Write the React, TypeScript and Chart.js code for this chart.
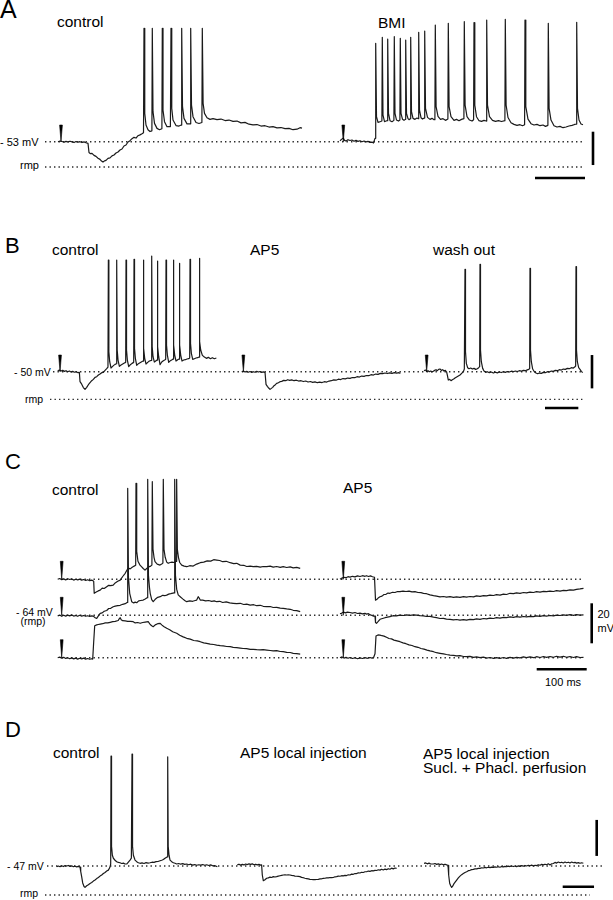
import React, { useEffect, useRef } from "react";
import { Chart, registerables } from "chart.js";
Chart.register(...registerables);

// ---------- DATA (time in ms from sweep start, membrane potential in mV) ----------
const A_HOLD = -53;
const A_RMP = -68.2;
const A_STIM = [6, 6.6];
const A_CONTROL = [
  [0,-53],[4,-52.6],[8,-52.9],[12,-53.3],[16,-52.8],[20,-53.2],[24,-52.7],[28,-53.1],[32,-53.5],[36,-52.9],[40,-53.3],[44,-53.0],[48,-53.5],[52,-53.1],[56,-53.6],[60,-54.0],
  [62,-59.5],[65,-60.2],[68,-60.0],[72,-61.2],[76,-61.8],[80,-62.9],[84,-63.6],[87,-64.6],[90,-65.2],[93,-64.5],[96,-64.2],[100,-63.0],[104,-62.7],[108,-61.5],[112,-61.0],[116,-59.8],[120,-59.2],[124,-58.0],[128,-57.4],[132,-55.6],[136,-55.0],[140,-53.2],[144,-52.4],[148,-51.2],[152,-50.4],[156,-50.8],[160,-49.4],[164,-48.9],[168,-48.2],[171,-47.6],
  [172,15],[173.5,-36],[176,-43],[180,-45.8],[184,-46.9],[187.8,-46.5],
  [188.6,15],[190,-35],[193,-42],[198,-45],[203,-45.8],[207.8,-45.2],
  [208.6,15],[210,-34],[213,-41],[218,-44],[224.8,-43.9],
  [226,15],[227.5,-33],[230,-40],[236,-43.3],[242,-43.6],[246.6,-43],
  [247.4,15],[249,-32],[252,-39],[258,-42.3],[264.6,-42.3],
  [265.4,15],[267,-31],[270,-38],[276,-41.5],[282,-42.1],[287.8,-41.5],
  [288.6,15],[290.2,-30],[293,-36],[298,-38.6],[304,-39.6],[310,-39.2],[318,-39.8],[326,-39.4],[334,-40.3],[342,-40.0],[350,-40.8],[358,-40.6],[366,-41.7],[374,-41.4],[382,-42.5],[390,-42.9],[398,-42.7],[406,-43.6],[414,-43.4],[422,-44.2],[430,-44.0],[438,-44.7],[446,-44.5],[454,-45.2],[462,-45.0],[470,-45.8],[478,-45.5],[484,-44.6],[488,-44.9],
];
const A_BMI = [
  [0,-52.4],[3,-51.6],[6.6,-50.8],[9,-52.2],[12,-52.6],[16,-51.8],[20,-52.3],[24,-52.0],[28,-52.7],[32,-52.2],[36,-52.8],[40,-52.4],[44,-53.0],[48,-52.6],[52,-53.1],[56,-52.8],[60,-53.4],[64,-53.2],[67,-53.8],[70,-51],
  [71.4,6],[73,-38],[76,-41.4],[80,-41.0],[83.8,-40.6],
  [84.6,9.6],[86,-37],[89,-41],[92,-40.6],[94.6,-40.4],
  [95.4,8.6],[97,-36],[100,-40.4],[104,-41.0],[107.8,-40.2],
  [108.6,10],[110,-36],[113,-40],[117,-40.6],[119.8,-40],
  [120.6,9],[122,-36],[125,-39.6],[128,-40.2],[130.6,-39.6],
  [131.4,8],[133,-36],[136,-39.2],[138,-39.8],[140.6,-39.2],
  [141.4,9.6],[143,-35],[146,-39],[150,-39.6],[154,-38.8],[156.6,-39.2],
  [157.4,12.6],[159,-34],[162,-38.6],[165,-39.4],[168.6,-38.8],
  [169.4,13.4],[171,-33],[175,-38.4],[180,-39.6],[184,-39.0],[188,-39.8],[189.8,-39.2],
  [190.6,17],[192.2,-32],[196,-37.8],[201,-39.6],[206,-39.2],[211,-40.2],[215.8,-39.4],
  [216.6,18],[218.2,-32],[222,-38],[228,-40.2],[233,-39.6],[238,-40.4],[243,-39.6],[247.8,-39.2],
  [248.6,19],[250.2,-31],[254,-38],[259,-40],[264,-40.6],[267.2,-39.8],
  [268,18.4],[269.6,-31],[273,-38],[278,-40.4],[283,-40.8],[288,-40.2],[292.6,-40.6],
  [293.4,20],[295,-31],[299,-38],[305,-40.2],[311,-40.8],[317,-40.4],[323,-40.9],[329.8,-40.4],
  [330.6,20.4],[332.2,-31],[336,-38.5],[342,-41.6],[348,-42.6],[354,-43.2],[360,-42.8],[365,-43.4],[369.2,-42.8],
  [370,20],[371.6,-32],[376,-39.5],[382,-42.2],[388,-43.0],[394,-42.6],[400,-43.4],[406,-43.0],[411,-43.8],[415.8,-43.2],
  [416.6,18],[418.2,-33],[422,-40],[428,-43.4],[434,-44.2],[440,-43.8],[446,-44.6],[452,-44.2],[458,-43.6],[464,-43.2],[468,-42.8],[472.6,-42.4],
  [473.4,18.6],[475,-33],[478,-40],[482,-42.4],[486,-42.8],
];

const B_HOLD = -50;
const B_RMP = -66.6;
const B_STIM = [7, 5, 8];
const B_CONTROL = [
  [0,-49.4],[5,-49.0],[10,-49.6],[15,-49.2],[20,-49.8],[25,-49.4],[30,-50.0],[35,-49.6],[40,-50.2],[45,-49.8],[50,-50.3],[55,-50.0],[60,-50.5],[65,-50.4],
  [67,-56],[72,-57.5],[77,-59.5],[82,-60.6],[87,-59.4],[92,-57.8],[97,-56.6],[102,-55.4],[107,-54.6],[112,-53.4],[117,-53.0],[122,-52.0],[127,-51.4],[132,-50.6],[137,-50.4],[142,-49.2],[147,-48.2],[150.8,-47.2],
  [152,17],[153.5,-38],[156,-44],[160,-47.8],[164,-47.0],[168,-46.2],[172,-45.6],[176,-45.2],
  [177,17],[178.5,-37],[181,-43],[185,-46.8],[190,-46.0],[195,-45.4],[200,-44.8],[204,-44.4],
  [205,17],[206.5,-37],[209,-43],[213,-47.0],[218,-45.8],[223,-45.0],[228,-44.4],
  [229,17.4],[230.5,-36],[233,-42],[237,-46.2],[242,-45.2],[247,-44.6],[252,-44.0],[256,-43.6],
  [257,17],[258.5,-36],[261,-42],[265,-45.4],[270,-44.4],[275,-43.6],[281,-43.2],
  [282,19.4],[283.5,-35],[286,-41],[290,-44.2],[294,-43.6],[298,-43.0],
  [299,16.4],[300.5,-35],[303,-41],[307,-45.8],[312,-44.2],[317,-43.4],[321,-43],[324,-42.6],
  [325,17],[326.5,-34],[329,-40],[333,-44.4],[338,-43.4],[343,-42.8],[346,-42.4],
  [347,17],[348.5,-34],[351,-40],[355,-43.6],[360,-42.8],[364,-42.4],
  [365,15],[366.5,-34],[369,-40],[373,-43.6],[378,-43.0],[383,-42.8],[388,-42.4],[393,-42.2],[396,-41.8],
  [397,17.4],[398.5,-33],[401,-39],[405,-42.6],[410,-42.2],[415,-41.8],[420,-41.6],[424,-41.2],
  [425,18],[426.5,-32],[429,-37],[434,-40.2],[440,-41.2],[446,-42.0],[452,-41.4],[458,-42.2],[464,-41.6],[470,-42.2],[476,-41.8],
];
const B_AP5 = [
  [0,-50],[5,-49.6],[10,-50.2],[15,-49.8],[20,-50.3],[25,-49.9],[30,-50.4],[35,-50.0],[40,-50.3],[45,-49.8],[50,-50.2],[55,-49.9],[60,-50.4],[65,-50.1],[70,-50.5],
  [73,-57.6],[77,-58.8],[81,-59.8],[85,-60.6],[89,-60.0],[93,-59.4],[97,-58.4],[101,-57.8],[105,-57.0],[110,-56.6],[115,-56.0],[120,-55.8],[126,-55.2],[132,-55.4],[138,-54.8],[144,-55.2],[150,-54.9],[157,-55.4],[164,-55.1],[171,-55.6],[178,-55.4],[185,-55.9],[192,-55.6],[199,-56.2],[206,-55.9],[213,-56.4],[220,-56.1],[227,-56.6],[234,-56.3],[241,-56.5],[248,-56.0],[255,-56.2],[262,-55.6],[269,-55.4],[276,-54.9],[283,-55.1],[290,-54.5],[297,-54.7],[304,-54.1],[311,-54.3],[318,-53.8],[325,-54.0],[332,-53.5],[339,-53.6],[346,-53.0],[353,-53.2],[360,-52.6],[367,-52.8],[374,-52.3],[381,-52.4],[388,-51.8],[395,-52.0],[402,-51.4],[409,-51.6],[416,-51.0],[423,-51.2],[430,-50.8],[437,-51.1],[444,-50.7],[451,-51.0],[458,-50.6],[465,-50.9],[472,-50.6],[476,-51.0],
];
const B_WASHOUT = [
  [0,-49.4],[4,-49.0],[8,-49.8],[12,-49.4],[16,-50.0],[20,-49.6],[24,-50.1],[28,-49.7],[32,-49.2],[36,-48.8],[40,-49.4],[44,-48.6],[48,-48.4],[52,-49.2],[56,-48.8],[60,-49.6],[64,-49.2],[68,-50.2],[70,-52],
  [73,-55],[77,-54.6],[81,-55.4],[85,-54.8],[89,-54.4],[93,-53.8],[98,-53.2],[103,-52.6],[108,-52.0],[113,-51.0],[118,-50],[121,-48.4],
  [123,11.4],[124.5,-38],[127,-45],[131,-47.6],[135,-48.2],[140,-47.8],[145,-48.4],[150,-48.0],[155,-48.6],[160,-48.2],[164,-47.6],[167,-47.0],
  [168,14.4],[169.5,-37],[172,-44],[176,-48],[180,-49.6],[185,-50.4],[190,-50.0],[196,-50.6],[202,-50.2],[208,-50.8],[214,-50.3],[220,-50.7],[226,-50.2],[232,-50.5],[238,-50.0],[244,-50.4],[250,-49.9],[256,-50.2],[262,-49.7],[268,-50.0],[274,-49.6],[280,-49.9],[286,-49.4],[292,-49.7],[298,-49.2],[304,-49.4],[310,-48.9],[314,-48.6],[317,-48.2],
  [318,12],[319.5,-37],[322,-44],[326,-48.4],[331,-50.0],[336,-50.8],[341,-51.2],[346,-50.8],[352,-51.0],[358,-50.4],[364,-50.6],[370,-50.0],[376,-50.2],[382,-49.6],[388,-49.8],[394,-49.2],[400,-49.4],[406,-48.8],[412,-49.0],[418,-48.4],[424,-48.6],[430,-48.0],[436,-48.2],[442,-47.6],[448,-47.8],[452,-47.2],[455,-46.6],
  [456,13],[457.5,-37],[460,-44],[464,-47.6],[468,-48.6],[472,-49.8],[476,-50.6],
];

const C_RMP = -64;
const C_STIM = [8, 6.6];
const C_CONTROL_1 = [
  [0,-64],[4,-63.6],[8,-64.2],[12,-63.8],[16,-64.3],[20,-63.7],[24,-64.1],[28,-63.8],[32,-64.4],[36,-64.0],[40,-64.3],[44,-63.9],[48,-64.4],[52,-64.1],[56,-64.6],[60,-64.2],[64,-64.7],[68,-64.4],[72,-65],
  [73,-71],[77,-70.4],[81,-69.8],[85,-69.4],[89,-68.4],[93,-68.6],[98,-67.7],[102,-67.0],[106,-67.2],[111,-66.9],[115,-65.8],[120,-65.0],[125,-64.4],[130,-62.6],[135,-61],[138,-59.6],[141,-58.4],[145,-58.8],[149,-58.0],[153,-57.4],[156,-57.0],
  [156.6,-16],[158,-50],[160.5,-55],[164.6,-56.9],[168,-57.8],[171,-58.6],[174.6,-59.4],[178,-58.6],[182,-57.8],[186,-57.4],[188.4,-56.9],
  [189.2,-15.2],[190.6,-49],[192.6,-53],[194.6,-55.2],[199,-56.4],[204.6,-56.9],[208,-56.4],[210.4,-55.9],
  [211.2,-14],[212.6,-49],[215,-53],[218,-55.4],[221,-56],[225,-55.6],[228.6,-55.4],[233,-55.6],[237,-55],
  [237.9,-14],[239.3,-49],[241.5,-53],[244,-55.6],[248,-56.9],[253,-57.4],[258,-57.7],[264,-57.2],[271,-57.4],[278,-56.4],[285,-55.7],[292,-55.4],[299,-54.8],[306,-54.9],[312,-54.2],[318,-54.4],[324,-54.6],[330,-55.2],[337,-55.0],[345,-55.7],[352,-56.2],[358,-56.0],[365,-56.9],[372,-57.0],[378,-57.6],[385,-57.4],[391,-57.7],[398,-57.5],[405,-57.9],[411,-57.6],[418,-57.7],[425,-57.4],[431,-57.9],[438,-57.6],[445,-58.0],[451,-57.7],[458,-58.1],[465,-57.8],[471,-58.3],[478,-58.0],[485,-58.5],
];
const C_CONTROL_2 = [
  [0,-64.3],[4,-63.9],[8,-64.5],[12,-64.0],[16,-64.4],[20,-63.9],[24,-64.3],[28,-63.8],[32,-64.4],[36,-64.1],[40,-64.5],[44,-64.0],[48,-64.4],[52,-64.1],[56,-64.5],[60,-64.2],[64,-64.6],[68,-64.3],[71,-64.4],[75,-65.2],[78,-65.6],[81,-64.4],[85,-63],[89,-62.8],[93,-62.0],[98,-61.6],[102,-60.6],[106,-60.5],[111,-59.7],[115,-59.4],[120,-59.2],[125,-59.0],[130,-58.5],[135,-58.2],[138.8,-57.6],
  [140,-0.5],[141.5,-45],[144,-53],[148,-57.2],[152,-57.8],[155,-57.4],[158,-57.7],[162,-56.8],[166,-56.6],[171,-56.4],[175,-55.8],[178.8,-55.2],
  [180,4],[181.5,-44],[183.5,-50],[185,-53],[188,-56.2],[191,-57.2],[195,-56.0],[200,-55.0],[205,-54.7],[210,-54.0],[214,-54.2],[218,-53.9],[222,-53.4],[226,-53.2],[232.8,-52.8],
  [234,4],[235.5,-44],[238,-51],[241,-53.8],[245,-54.7],[250,-55.8],[254,-56.6],[258,-57.2],[264,-56.8],[270,-57.0],[275,-56.6],[278,-56.4],[281,-54.7],[283,-55.4],[285,-56.4],[290,-56.4],[296,-56.8],[302,-56.6],[308,-57.0],[313,-56.8],[318,-57.2],[324,-57.0],[330,-57.6],[337,-57.3],[344,-57.8],[351,-58.0],[358,-58.2],[365,-58.0],[372,-58.6],[378,-58.4],[385,-58.9],[392,-58.7],[398,-59.2],[405,-59.0],[411,-59.5],[418,-59.7],[425,-59.6],[431,-60.1],[438,-60.0],[445,-60.4],[451,-60.5],[458,-60.8],[465,-61.0],[471,-61.5],[478,-61.7],[485,-62.2],
];
const C_CONTROL_3 = [
  [0,-64],[4,-63.7],[8,-64.2],[12,-63.8],[16,-64.4],[20,-64.0],[24,-64.5],[28,-64.1],[32,-64.6],[36,-64.2],[40,-64.7],[44,-64.3],[48,-64.6],[52,-64.2],[56,-64.7],[60,-64.4],[64,-64.8],[68,-64.5],[70,-64.7],
  [72,-56],[74,-48],[78,-47.6],[81,-47.4],[85,-47.2],[90,-47.0],[95,-46.6],[100,-46.6],[105,-46.3],[110,-46.0],[115,-45.8],[121,-45.4],[123,-44.6],[125,-44],[127,-45],[130,-45.5],[135,-45.6],[140,-45.8],[145,-45.8],[151,-46],[155,-46.6],[160,-46.4],[165,-46.8],[170,-46.4],[175,-46.2],[181,-46],[185,-47.4],[188,-48.0],[191,-48.5],[195,-47.6],[200,-47.0],[205,-46.8],[208,-47.6],[212,-48.4],[218,-49.3],[224,-50.0],[230,-51.0],[238,-51.8],[244,-52.8],[251,-53.6],[258,-54.3],[265,-54.7],[272,-55.4],[279,-55.6],[285,-56],[292,-56.6],[298,-56.8],[305,-57.2],[312,-57.4],[318,-57.7],[325,-58.0],[331,-58.1],[338,-58.4],[345,-58.5],[351,-58.8],[358,-59.0],[365,-59.2],[371,-59.4],[378,-59.5],[385,-59.8],[391,-59.8],[398,-60.0],[405,-60.1],[411,-60.0],[418,-60.2],[425,-60.4],[431,-60.6],[438,-60.5],[445,-60.9],[451,-61.0],[458,-61.3],[465,-61.4],[471,-61.8],[478,-62.0],[485,-62.2],
];
const C_AP5_1 = [
  [0,-64],[4,-63.4],[8,-63.0],[12,-63.2],[16,-62.7],[20,-62.9],[25,-62.5],[30,-62.8],[35,-62.3],[40,-62.6],[45,-62.2],[50,-62.5],[53,-62.2],[57,-62.6],[61,-62.3],[65,-62.7],[69,-63],
  [71,-74.4],[74,-74.0],[77,-73.2],[80,-72.7],[84,-72.4],[88,-71.6],[92,-71.5],[96,-70.9],[100,-71.0],[105,-70.5],[110,-70.6],[115,-70.1],[120,-70.2],[126,-69.9],[132,-70.1],[138,-69.9],[144,-70.3],[150,-70.2],[156,-70.6],[162,-70.7],[167,-71.0],[173,-71.2],[180,-71.8],[187,-72.2],[193,-72.4],[200,-72.8],[207,-72.6],[213,-72.9],[220,-72.7],[227,-73.0],[233,-72.8],[240,-73.0],[247,-72.7],[253,-72.9],[260,-72.6],[267,-72.8],[273,-72.3],[280,-72.5],[287,-72.2],[293,-72.3],[300,-71.9],[307,-72.1],[313,-71.7],[320,-71.9],[327,-71.4],[333,-71.6],[340,-71.0],[347,-71.2],[353,-70.8],[360,-71.0],[367,-70.6],[373,-70.8],[380,-70.4],[387,-70.6],[393,-70.2],[400,-70.4],[407,-70.0],[413,-70.2],[420,-69.9],[427,-70.1],[433,-69.7],[440,-69.9],[447,-69.5],[453,-69.7],[460,-69.3],[467,-69.4],[473,-69.0],[480,-68.8],[487,-68.5],
];
const C_AP5_2 = [
  [0,-63.2],[3,-63],[7,-62.4],[11,-62.8],[15,-62.4],[20,-62.6],[25,-62.9],[30,-62.6],[35,-63.1],[40,-62.9],[45,-63.3],[50,-63.0],[53,-63.4],[57,-63.2],[61,-63.8],[64,-64.1],[67,-64.4],[70,-64.4],
  [71,-67.6],[73,-68],[76,-67.2],[80,-66],[85,-65.6],[90,-65.2],[95,-64.9],[100,-64.7],[106,-64.2],[113,-64.3],[120,-63.9],[127,-64.1],[133,-63.8],[140,-64.0],[147,-63.8],[153,-63.9],[160,-64.2],[167,-64.3],[173,-64.6],[180,-64.5],[187,-64.9],[193,-65.2],[200,-65.6],[207,-65.5],[213,-65.9],[220,-66],[227,-66.3],[233,-66.1],[240,-66.4],[247,-66.2],[253,-66.4],[260,-66.0],[267,-66.2],[273,-65.8],[280,-66.0],[287,-65.6],[293,-65.8],[300,-65.4],[307,-65.6],[313,-65.2],[320,-65.4],[327,-65.0],[333,-65.2],[340,-64.8],[347,-65.0],[353,-64.7],[360,-64.9],[367,-64.6],[373,-64.8],[380,-64.5],[387,-64.7],[393,-64.3],[400,-64.5],[407,-64.2],[413,-64.4],[420,-64.1],[427,-64.3],[433,-63.9],[440,-64.1],[447,-63.8],[453,-64.0],[460,-63.7],[467,-64.0],[473,-63.7],[480,-63.9],[487,-63.8],
];
const C_AP5_3 = [
  [0,-64],[4,-63.6],[8,-64.2],[12,-63.8],[16,-64.3],[20,-63.9],[25,-64.4],[30,-64.0],[35,-64.5],[40,-64.1],[45,-64.4],[50,-64.0],[55,-64.3],[60,-63.9],[64,-64.2],[67,-64.0],[70,-62],
  [72,-53.2],[76,-52.6],[80,-52.7],[84,-53.0],[88,-53.2],[93,-53.8],[98,-54.4],[103,-54.6],[108,-55.2],[114,-55.6],[120,-56],[126,-56.6],[132,-57.0],[138,-57.6],[144,-57.9],[150,-58.5],[156,-58.8],[162,-59.4],[168,-59.7],[174,-60.2],[180,-60.6],[187,-61],[193,-61.5],[200,-61.8],[207,-62.1],[213,-62.4],[220,-62.7],[227,-62.8],[233,-63.1],[240,-63.0],[247,-63.4],[253,-63.5],[260,-63.3],[267,-63.8],[273,-63.6],[280,-64.0],[287,-63.7],[293,-64.2],[300,-63.9],[307,-64.3],[313,-64.0],[320,-64.3],[327,-63.9],[333,-64.3],[340,-63.8],[347,-64.2],[353,-63.8],[360,-64.1],[367,-63.6],[373,-64.0],[380,-63.6],[387,-64.0],[393,-63.5],[400,-63.9],[407,-63.4],[413,-63.8],[420,-63.4],[427,-63.8],[433,-63.3],[440,-63.7],[447,-63.3],[453,-63.8],[460,-63.4],[467,-63.9],[473,-63.5],[480,-63.9],[487,-63.8],
];

const D_HOLD = -47;
const D_RMP = -63.1;
const D_CONTROL = [
  [0,-47.4],[5,-47.0],[10,-47.4],[15,-46.9],[20,-47.3],[25,-46.8],[30,-47.0],[35,-46.7],[40,-47.2],[45,-46.9],[50,-47.4],[55,-47.1],[60,-47.5],[65,-47.2],[70,-47.6],
  [72,-50],[75,-53],[78,-56.4],[82,-58.4],[85,-58.9],[90,-58.0],[95,-57.4],[100,-56.7],[105,-56.2],[110,-55.4],[115,-54.8],[120,-54],[125,-53.4],[130,-52.6],[135,-52.0],[140,-51.2],[145,-50.6],[150,-49.8],[155,-49.3],[159,-48],[162,-46],
  [163,14.1],[164.5,-36],[167,-41],[170,-42.7],[175,-43.8],[180,-44.6],[185,-45.0],[190,-45.2],[195,-45.6],[200,-45.4],[205,-45.9],[210,-45.9],[215,-44.8],[220,-43.7],[224,-42.6],
  [226,15.2],[227.5,-36],[230,-41],[235,-43.7],[240,-44.6],[245,-45.2],[250,-45.5],[256,-45.3],[262,-45.6],[268,-45.1],[274,-45.4],[280,-45.2],[286,-44.9],[292,-45.0],[298,-44.6],[304,-44.5],[310,-44.1],[315,-43.8],[320,-43.4],[325,-42.7],[331,-42],
  [333,13.7],[334.5,-36],[337,-41],[340,-43.7],[345,-44.6],[350,-45.2],[355,-45.5],[360,-45.9],[366,-45.6],[372,-46.0],[378,-45.7],[384,-46.1],[390,-45.9],[396,-46.3],[402,-46.0],[408,-46.5],[414,-46.2],[420,-46.6],[426,-46.3],[432,-46.5],[438,-46.2],[444,-46.6],[450,-46.3],[456,-46.7],[462,-46.4],[468,-46.9],[474,-46.8],[482,-47.4],
];
const D_AP5 = [
  [0,-46.4],[5,-46.0],[10,-46.5],[15,-46.1],[20,-46.4],[25,-45.9],[30,-46.2],[35,-45.8],[40,-46.1],[45,-45.8],[50,-46.3],[55,-46.0],[60,-46.4],[65,-46.1],[70,-46.5],[73,-46.4],
  [75,-52],[78,-55.2],[83,-54.6],[88,-53.8],[93,-53.6],[98,-53.2],[103,-53.4],[108,-52.9],[113,-53.1],[118,-52.9],[123,-52.6],[128,-52.4],[133,-52.2],[138,-52.0],[143,-51.9],[148,-52.0],[153,-51.9],[158,-52.0],[163,-52.2],[168,-52.3],[173,-52.6],[178,-52.7],[183,-52.8],[188,-52.9],[193,-53.3],[198,-53.5],[203,-53.8],[208,-54.0],[213,-54.2],[218,-54.4],[223,-54.5],[228,-54.6],[233,-54.6],[238,-54.5],[243,-54.4],[248,-54.2],[253,-54.1],[258,-53.9],[263,-53.8],[268,-53.6],[273,-53.6],[278,-53.4],[283,-53.5],[288,-53.4],[293,-53.0],[298,-52.9],[303,-52.6],[308,-52.7],[313,-52.4],[318,-52.5],[323,-52.2],[328,-52.3],[333,-51.9],[338,-52],[343,-51.5],[348,-51.6],[353,-51.2],[358,-51.2],[363,-50.8],[368,-50.9],[373,-50.5],[378,-50.6],[383,-50.2],[388,-50.2],[393,-49.8],[398,-50.0],[403,-49.6],[408,-49.7],[413,-49.4],[418,-49.5],[423,-49.1],[428,-49.3],[433,-48.8],[438,-49.2],[443,-48.7],[448,-49.0],[453,-48.5],[458,-48.8],[463,-48.2],[468,-48.6],[473,-48.1],[478,-48.3],
];
const D_SUCL_PHACL = [
  [0,-45.5],[5,-45.3],[10,-45.8],[15,-45.4],[20,-45.9],[28,-45.9],[33,-45.6],[38,-46.1],[43,-45.8],[48,-46.2],[53,-45.9],[58,-46.3],[63,-46.0],[68,-46.4],[72,-46.6],
  [74,-52],[77,-56.6],[80,-58.0],[83,-58.9],[86,-58.2],[90,-56.8],[94,-55.8],[98,-54.8],[103,-53.6],[108,-52.6],[113,-51.8],[118,-51.2],[123,-50.6],[128,-50.2],[133,-49.6],[138,-49.4],[143,-49.0],[148,-48.9],[153,-48.6],[158,-48.6],[163,-48.3],[168,-48.3],[173,-48.0],[178,-48.1],[183,-47.8],[188,-48.0],[193,-47.7],[198,-47.9],[203,-47.6],[208,-47.8],[213,-47.5],[218,-47.7],[223,-47.4],[228,-47.7],[233,-47.3],[238,-47.5],[243,-47.2],[248,-47.4],[253,-47.1],[258,-47.3],[263,-47.0],[268,-47.3],[273,-47.0],[278,-47.4],[283,-46.9],[288,-47.2],[293,-46.8],[298,-47.1],[303,-46.7],[308,-47.0],[313,-46.6],[318,-46.9],[323,-46.5],[328,-47.0],[333,-46.6],[338,-46.8],[343,-46.3],[348,-46.6],[353,-46.1],[358,-46.4],[363,-46.0],[368,-46.3],[373,-45.8],[378,-46.4],[383,-45.8],[388,-45.6],[393,-45.0],[398,-45.4],[403,-44.8],[408,-45.2],[413,-44.9],[418,-45.3],[423,-44.8],[428,-45.2],[433,-44.9],[438,-45.3],[443,-44.8],[448,-45.2],[453,-45.0],[458,-45.4],[463,-45.1],[468,-45.5],[473,-45.2],[478,-45.5],
];

// Scale bar sizes (data units)
const BAR_MV = 20;
const BAR_MS = [100, 100, 100, 94];

// ---------- LAYOUT ----------
const W = 613;
const FONT = 'Arial, "Liberation Sans", Helvetica, sans-serif';

type Frame = { top: number; height: number; pxPerMs: number; pxPerMv: number; refMv: number; refY: number };
type SweepSpec = { data: number[][]; left: number; stim?: number; stimH?: number; hold?: number };
type Spec = {
  frame: Frame;
  sweeps: SweepSpec[];
  refLines: { mv: number; from: number; to: number }[];
  vbar?: { x: number; fromMv: number; lenMv: number };
  hbar?: { mv: number; from: number; lenMs: number };
};

const FA: Frame = { top: 0, height: 200, pxPerMs: 0.5, pxPerMv: 5 / 3, refMv: A_HOLD, refY: 141.7 };
const FB: Frame = { top: 200, height: 215, pxPerMs: 1 / 3, pxPerMv: 5 / 3, refMv: B_HOLD, refY: 371.7 };
const FC1: Frame = { top: 430, height: 260, pxPerMs: 0.5, pxPerMv: 2, refMv: C_RMP, refY: 579.3 };
const FC2: Frame = { ...FC1, refY: 615.3 };
const FC3: Frame = { ...FC1, refY: 657.7 };
const FD: Frame = { top: 700, height: 200, pxPerMs: 1 / 3, pxPerMv: 1.8, refMv: D_HOLD, refY: 866 };

const SPECS: Spec[] = [
  {
    frame: FA,
    sweeps: [
      { data: A_CONTROL, left: 58, stim: A_STIM[0], stimH: 10, hold: A_HOLD },
      { data: A_BMI, left: 340, stim: A_STIM[1], stimH: 10, hold: A_HOLD },
    ],
    refLines: [{ mv: A_HOLD, from: 45, to: 583 }, { mv: A_RMP, from: 45, to: 583 }],
    vbar: { x: 593, fromMv: -67, lenMv: BAR_MV },
    hbar: { mv: -74.8, from: 535, lenMs: BAR_MS[0] },
  },
  {
    frame: FB,
    sweeps: [
      { data: B_CONTROL, left: 57.7, stim: B_STIM[0], stimH: 10, hold: B_HOLD },
      { data: B_AP5, left: 241.7, stim: B_STIM[1], stimH: 10, hold: B_HOLD },
      { data: B_WASHOUT, left: 424, stim: B_STIM[2], stimH: 10, hold: B_HOLD },
    ],
    refLines: [{ mv: B_HOLD, from: 53, to: 583 }, { mv: B_RMP, from: 50, to: 583 }],
    vbar: { x: 592, fromMv: -60, lenMv: BAR_MV },
    hbar: { mv: -71.8, from: 545, lenMs: BAR_MS[1] },
  },
  {
    frame: FC1,
    sweeps: [
      { data: C_CONTROL_1, left: 57.7, stim: C_STIM[0], stimH: 9, hold: C_RMP },
      { data: C_AP5_1, left: 340, stim: C_STIM[1], stimH: 9, hold: C_RMP },
    ],
    refLines: [{ mv: C_RMP, from: 62, to: 583 }],
  },
  {
    frame: FC2,
    sweeps: [
      { data: C_CONTROL_2, left: 57.7, stim: C_STIM[0], stimH: 9, hold: C_RMP },
      { data: C_AP5_2, left: 340, stim: C_STIM[1], stimH: 9, hold: C_RMP },
    ],
    refLines: [{ mv: C_RMP, from: 62, to: 583 }],
    vbar: { x: 591.7, fromMv: -78, lenMv: BAR_MV },
    hbar: { mv: -91, from: 536.7, lenMs: BAR_MS[2] },
  },
  {
    frame: FC3,
    sweeps: [
      { data: C_CONTROL_3, left: 57.7, stim: C_STIM[0], stimH: 9, hold: C_RMP },
      { data: C_AP5_3, left: 340, stim: C_STIM[1], stimH: 9, hold: C_RMP },
    ],
    refLines: [{ mv: C_RMP, from: 62, to: 583 }],
  },
  {
    frame: FD,
    sweeps: [
      { data: D_CONTROL, left: 56.7 },
      { data: D_AP5, left: 237.3 },
      { data: D_SUCL_PHACL, left: 424 },
    ],
    refLines: [{ mv: D_HOLD, from: 47, to: 603 }, { mv: D_RMP, from: 45, to: 590 }],
    vbar: { x: 596.7, fromMv: -41.4, lenMv: BAR_MV },
    hbar: { mv: -58.5, from: 562.7, lenMs: BAR_MS[3] },
  },
];

type Lbl = { text: string; x: number; base: number; size: number };
const LABELS: Lbl[] = [
  { text: "A", x: 0, base: 18.5, size: 25 },
  { text: "control", x: 57, base: 27.5, size: 15.5 },
  { text: "BMI", x: 378, base: 28, size: 15.5 },
  { text: "- 53 mV", x: 0, base: 146.5, size: 11 },
  { text: "rmp", x: 20, base: 169.5, size: 11 },
  { text: "B", x: 5, base: 253.3, size: 22 },
  { text: "control", x: 52, base: 255, size: 15.5 },
  { text: "AP5", x: 250, base: 255, size: 15.5 },
  { text: "wash out", x: 433, base: 255, size: 15.5 },
  { text: "- 50 mV", x: 14, base: 375.5, size: 10.5 },
  { text: "rmp", x: 25, base: 403, size: 10.5 },
  { text: "C", x: 5, base: 470, size: 22 },
  { text: "control", x: 52, base: 495, size: 15.5 },
  { text: "AP5", x: 343, base: 493, size: 15.5 },
  { text: "- 64 mV", x: 16, base: 615.5, size: 10.5 },
  { text: "(rmp)", x: 20.5, base: 625, size: 10.5 },
  { text: "20", x: 597.5, base: 618.5, size: 11 },
  { text: "mV", x: 597.5, base: 632, size: 11 },
  { text: "100 ms", x: 545, base: 686.7, size: 11 },
  { text: "D", x: 5, base: 737.7, size: 22 },
  { text: "control", x: 53, base: 758, size: 15.5 },
  { text: "AP5 local injection", x: 240, base: 758, size: 15.5 },
  { text: "AP5 local injection", x: 423, base: 759.5, size: 15.5 },
  { text: "Sucl. + Phacl. perfusion", x: 423, base: 773, size: 15.5 },
  { text: "- 47 mV", x: 7, base: 869.5, size: 10.5 },
  { text: "rmp", x: 20, base: 896.5, size: 10.5 },
];

function TraceChart({ spec }: { spec: Spec }) {
  const ref = useRef<HTMLCanvasElement>(null);
  useEffect(() => {
    const f = spec.frame;
    const msPerPx = 1 / f.pxPerMs;
    const mvPerPx = 1 / f.pxPerMv;
    const yMax = f.refMv + (f.refY - f.top) * mvPerPx;
    const yMin = yMax - f.height * mvPerPx;
    const base: any = {
      showLine: true, pointRadius: 0, pointHoverRadius: 0, fill: false, clip: false,
      borderJoinStyle: "round", tension: 0,
    };
    const datasets: any[] = [];
    for (const s of spec.sweeps) {
      const off = s.left * msPerPx;
      datasets.push({
        ...base, order: 1,
        data: s.data.map(([t, v]) => ({ x: off + t, y: v })),
        borderColor: "#1a1a1a", borderWidth: 1.2,
      });
      if (s.stim !== undefined && s.hold !== undefined && s.stimH !== undefined) {
        const sx = off + s.stim;
        const hw = 1.4 * msPerPx;
        const top = s.hold + s.stimH;
        datasets.push({
          ...base, order: 0, borderJoinStyle: "miter",
          data: [{ x: sx - hw, y: top }, { x: sx + hw, y: top }, { x: sx, y: s.hold }, { x: sx - hw, y: top }],
          borderColor: "#000", backgroundColor: "#000", borderWidth: 0.6, fill: "shape",
        });
      }
    }
    for (const r of spec.refLines) {
      datasets.push({
        ...base, order: 3,
        data: [{ x: r.from * msPerPx, y: r.mv }, { x: r.to * msPerPx, y: r.mv }],
        borderColor: "#2a2a2a", borderWidth: 1.4, borderDash: [1.4, 3.1], borderCapStyle: "butt",
      });
    }
    if (spec.vbar) {
      const b = spec.vbar;
      datasets.push({
        ...base, order: 2,
        data: [{ x: b.x * msPerPx, y: b.fromMv }, { x: b.x * msPerPx, y: b.fromMv + b.lenMv }],
        borderColor: "#000", borderWidth: 2.6, borderCapStyle: "butt",
      });
    }
    if (spec.hbar) {
      const b = spec.hbar;
      datasets.push({
        ...base, order: 2,
        data: [{ x: b.from * msPerPx, y: b.mv }, { x: b.from * msPerPx + b.lenMs, y: b.mv }],
        borderColor: "#000", borderWidth: 2.6, borderCapStyle: "butt",
      });
    }
    const chart = new Chart(ref.current as HTMLCanvasElement, {
      type: "scatter",
      data: { datasets },
      options: {
        animation: false,
        responsive: false,
        maintainAspectRatio: false,
        events: [],
        layout: { padding: 0 },
        plugins: { legend: { display: false }, tooltip: { enabled: false }, title: { display: false } },
        scales: {
          x: { type: "linear", display: false, min: 0, max: W * msPerPx },
          y: { type: "linear", display: false, min: yMin, max: yMax },
        },
      } as any,
    });
    return () => chart.destroy();
  }, [spec]);
  return (
    <canvas
      ref={ref}
      width={W}
      height={spec.frame.height}
      style={{ position: "absolute", left: 0, top: spec.frame.top, width: W, height: spec.frame.height, pointerEvents: "none" }}
    />
  );
}

export default function App() {
  return (
    <div style={{ position: "absolute", left: 0, top: 0, width: W, height: 900, background: "#fff", overflow: "hidden", fontFamily: FONT, color: "#000" }}>
      {LABELS.map((l, i) => (
        <div
          key={i}
          style={{
            position: "absolute", left: l.x, top: l.base - 0.8465 * l.size,
            fontSize: l.size, lineHeight: `${l.size}px`, whiteSpace: "pre",
          }}
        >
          {l.text}
        </div>
      ))}
      {SPECS.map((s, i) => (
        <TraceChart key={i} spec={s} />
      ))}
    </div>
  );
}
